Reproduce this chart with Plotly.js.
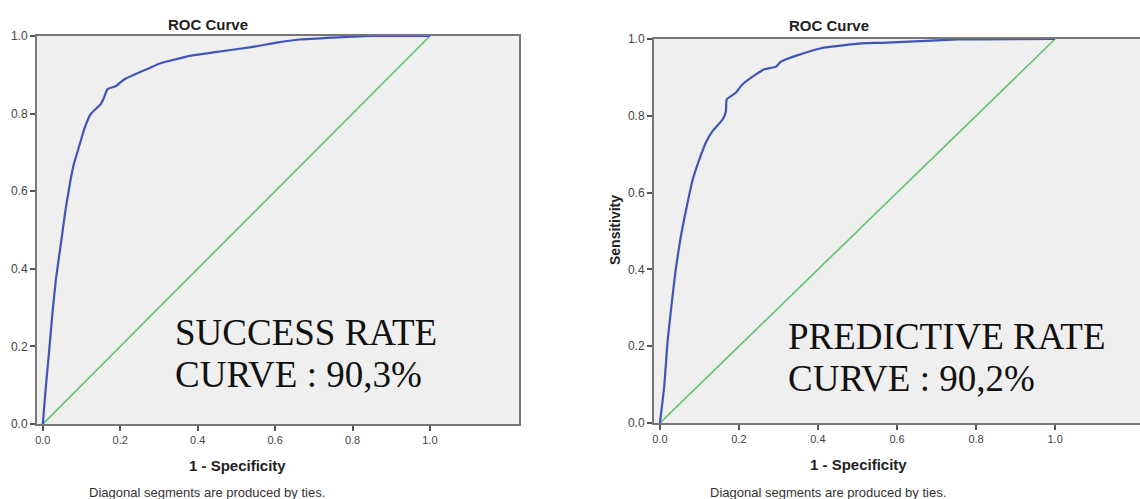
<!DOCTYPE html>
<html>
<head>
<meta charset="utf-8">
<script src="https://cdn.plot.ly/plotly-3.0.1.min.js"></script>
<style>
html,body{margin:0;padding:0;overflow:hidden;background:#fff;}
#chart{width:1160px;height:499px;}
</style>
</head>
<body>
<div id="chart"></div>
<script>
// ---- data ----
const leftFpr = [0, 0.008, 0.016, 0.025, 0.034, 0.047, 0.059, 0.072, 0.081, 0.094, 0.107, 0.124, 0.150, 0.158, 0.167, 0.189, 0.210, 0.240, 0.275, 0.302, 0.371, 0.457, 0.543, 0.604, 0.664, 0.750, 0.850, 1.0];
const leftTpr = [0, 0.098, 0.184, 0.287, 0.374, 0.467, 0.554, 0.631, 0.673, 0.716, 0.760, 0.799, 0.825, 0.841, 0.863, 0.871, 0.888, 0.902, 0.917, 0.929, 0.947, 0.960, 0.972, 0.983, 0.991, 0.996, 1.0, 1.0];
const rightFpr = [0, 0.011, 0.019, 0.030, 0.040, 0.053, 0.070, 0.083, 0.100, 0.116, 0.133, 0.159, 0.167, 0.169, 0.192, 0.209, 0.243, 0.264, 0.294, 0.306, 0.349, 0.408, 0.517, 0.560, 0.754, 1.0];
const rightTpr = [0, 0.096, 0.209, 0.313, 0.400, 0.487, 0.574, 0.634, 0.687, 0.730, 0.760, 0.791, 0.812, 0.843, 0.860, 0.882, 0.908, 0.921, 0.928, 0.941, 0.958, 0.976, 0.989, 0.990, 0.999, 1.0];
const diagX = [0, 1];
const diagY = [0, 1];
const tickVals = [0, 0.2, 0.4, 0.6, 0.8, 1.0];
const chartTitle = "ROC Curve";
const xTitle = "1 - Specificity";
const yTitle = "Sensitivity";
const footNote = "Diagonal segments are produced by ties.";
const leftLabel = ["SUCCESS RATE", "CURVE : 90,3%"];
const rightLabel = ["PREDICTIVE RATE", "CURVE : 90,2%"];

const W = 1160, H = 499;
const px = x => x / W;
const py = y => 1 - y / H;

const blue = "#3f55b8";
const green = "#5cc46c";

const traces = [
  {x: diagX, y: diagY, xaxis: "x", yaxis: "y", mode: "lines", line: {color: green, width: 1.6}, hoverinfo: "skip"},
  {x: leftFpr, y: leftTpr, xaxis: "x", yaxis: "y", mode: "lines", line: {color: blue, width: 2.2, shape: "spline", smoothing: 0.4}, hoverinfo: "skip"},
  {x: diagX, y: diagY, xaxis: "x2", yaxis: "y2", mode: "lines", line: {color: green, width: 1.6}, hoverinfo: "skip"},
  {x: rightFpr, y: rightTpr, xaxis: "x2", yaxis: "y2", mode: "lines", line: {color: blue, width: 2.2, shape: "spline", smoothing: 0.4}, hoverinfo: "skip"}
];

function xAxis(domain, anchor) {
  return {
    domain: domain, anchor: anchor, range: [-0.015, 1.23],
    tickvals: tickVals, tickformat: ".1f", ticks: "outside", ticklen: 5, tickwidth: 2, tickcolor: "#555",
    showline: true, linecolor: "#777", linewidth: 2, mirror: true,
    showgrid: false, zeroline: false,
    tickfont: {family: "Arial, Liberation Sans, sans-serif", size: 11, color: "#444"}
  };
}
function yAxis(domain, anchor) {
  return {
    domain: domain, anchor: anchor, range: [0, 1],
    tickvals: tickVals, tickformat: ".1f", ticks: "outside", ticklen: 5, tickwidth: 2, tickcolor: "#555",
    showline: true, linecolor: "#777", linewidth: 2, mirror: true,
    showgrid: false, zeroline: false,
    tickfont: {family: "Arial, Liberation Sans, sans-serif", size: 12, color: "#444"}
  };
}

const sansBold = {family: "Arial, Liberation Sans, sans-serif", size: 15, color: "#222"};
const serif = {family: "Liberation Serif, Times New Roman, serif", size: 37, color: "#111"};
const foot = {family: "Arial, Liberation Sans, sans-serif", size: 13, color: "#333"};

function ann(text, x, y, font, extra) {
  return Object.assign({text: text, xref: "paper", yref: "paper", x: px(x), y: py(y), showarrow: false, font: font, xanchor: "center", yanchor: "middle"}, extra || {});
}

const annotations = [
  ann("<b>" + chartTitle + "</b>", 208, 24, sansBold),
  ann("<b>" + chartTitle + "</b>", 829, 25, sansBold),
  ann("<b>" + xTitle + "</b>", 237, 465, sansBold),
  ann("<b>" + xTitle + "</b>", 858, 464, sansBold),
  ann(footNote, 207, 492, foot),
  ann(footNote, 828, 492, foot),
  ann("<b>" + yTitle + "</b>", 615, 230, Object.assign({}, sansBold, {size: 14}), {textangle: -90}),
  ann(leftLabel[0], 173, 332, serif, {xanchor: "left"}),
  ann(leftLabel[1], 173, 374, serif, {xanchor: "left"}),
  ann(rightLabel[0], 786, 336, serif, {xanchor: "left"}),
  ann(rightLabel[1], 786, 378, serif, {xanchor: "left"})
];

const layout = {
  width: W, height: H,
  margin: {l: 0, r: 0, t: 0, b: 0},
  paper_bgcolor: "#ffffff",
  plot_bgcolor: "#efefef",
  showlegend: false,
  xaxis: xAxis([px(37), px(519)], "y"),
  yaxis: yAxis([py(424), py(36)], "x"),
  xaxis2: xAxis([px(654), px(1146)], "y2"),
  yaxis2: yAxis([py(423), py(39)], "x2"),
  annotations: annotations
};

Plotly.newPlot("chart", traces, layout, {displayModeBar: false, staticPlot: true});
</script>
</body>
</html>
